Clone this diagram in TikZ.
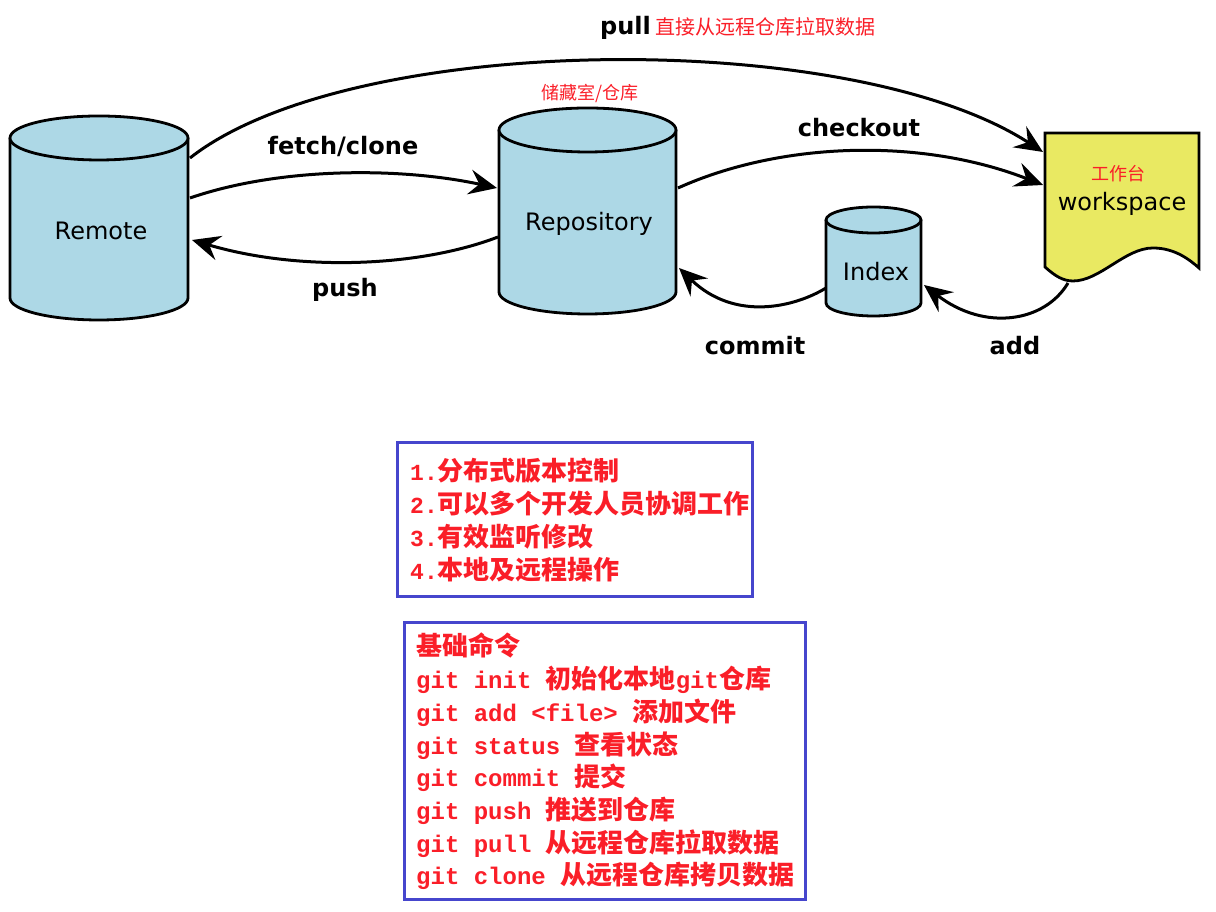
\documentclass[tikz,border=0pt]{standalone}
\usepackage{fontspec}
\setmainfont{DejaVu Sans}
\newfontfamily\cjkft{Noto Sans CJK SC}
\newfontfamily\monoft{Liberation Mono}
\usetikzlibrary{arrows.meta}
\definecolor{cylblue}{RGB}{173,216,230}
\definecolor{wsyellow}{RGB}{233,233,98}
\definecolor{txtred}{RGB}{250,30,40}
\definecolor{boxblue}{RGB}{70,70,205}
\newcommand\zh[1]{{\cjkft\fontsize{26}{30}\selectfont #1}}
\newcommand\mn[1]{{\monoft #1}}
\begin{document}
\begin{tikzpicture}[x=1pt,y=1pt,
  outline/.style={draw=black, line width=2.8pt},
  conn/.style={draw=black, line width=3pt, -{Stealth[length=28pt,width=25pt,inset=10pt]}},
  lbl/.style={inner sep=0pt, font=\fontsize{24}{28}\selectfont},
  blbl/.style={inner sep=0pt, font=\fontsize{24}{28}\selectfont\bfseries},
  redlbl/.style={inner sep=0pt, text=txtred, font=\fontsize{18}{22}\selectfont\cjkft},
  infobox/.style={draw=boxblue, line width=3pt},
  boxlineA/.style={anchor=base west, inner sep=0pt, text=txtred, font=\fontsize{23}{30}\selectfont\bfseries},
  boxlineB/.style={anchor=base west, inner sep=0pt, text=txtred, font=\fontsize{24}{30}\selectfont\bfseries}
]
\useasboundingbox (0,0) rectangle (1216,912);

% Remote cylinder
\path[fill=cylblue, outline] (10,774) -- (10,614) arc[start angle=180,end angle=360,x radius=89,y radius=22] -- (188,774);
\path[fill=cylblue, outline] (99,774) ellipse [x radius=89, y radius=22];
\node[lbl] (remote) at (101,681) {Remote};

% Repository cylinder
\path[fill=cylblue, outline] (499,782) -- (499,620) arc[start angle=180,end angle=360,x radius=88.5,y radius=22] -- (676,782);
\path[fill=cylblue, outline] (587.5,782) ellipse [x radius=88.5, y radius=22];
\node[lbl] (repo) at (589,688) {Repository};
\node[redlbl] (repocn) at (590,819) {储藏室/仓库};

% Index cylinder
\path[fill=cylblue, outline] (826,692) -- (826,609) arc[start angle=180,end angle=360,x radius=47.5,y radius=13] -- (921,692);
\path[fill=cylblue, outline] (873.5,692) ellipse [x radius=47.5, y radius=13];
\node[lbl] (index) at (876,640) {Index};

% Workspace
\path[fill=wsyellow, outline] (1045,779) -- (1199,779) -- (1199,644)
  .. controls (1190,652) and (1175,664) .. (1153,664)
  .. controls (1125,664) and (1100,631) .. (1073,631)
  .. controls (1063,631) and (1055,636) .. (1045,645) -- cycle;
\node[lbl] (ws) at (1122,708) {workspace};
\node[redlbl] (wscn) at (1118,738) {工作台};

% connector end points
\coordinate (remPullS) at (190,754);
\coordinate (wsPullE) at (1043,760);
\coordinate (remFetchS) at (190,714);
\coordinate (repoFetchE) at (497,724);
\coordinate (repoPushS) at (498,675);
\coordinate (remPushE) at (192,672);
\coordinate (repoCoS) at (678,724);
\coordinate (wsCoE) at (1043,727);
\coordinate (idxCommitS) at (826,624);
\coordinate (repoCommitE) at (679,644);
\coordinate (wsAddS) at (1068,629);
\coordinate (idxAddE) at (924,627);

% connectors
\draw[conn] (remPullS) .. controls (350,880) and (850,885) .. (wsPullE);
\draw[conn] (remFetchS) .. controls (280,745) and (400,745) .. (repoFetchE);
\draw[conn] (repoPushS) .. controls (420,645) and (300,640) .. (remPushE);
\draw[conn] (repoCoS) .. controls (780,770) and (920,775) .. (wsCoE);
\draw[conn] (idxCommitS) .. controls (795,605) and (735,590) .. (repoCommitE);
\draw[conn] (wsAddS) .. controls (1045,590) and (985,580) .. (idxAddE);

% connector labels
\node[blbl, anchor=east] (pull) at (651,884) {pull};
\node[inner sep=0pt, anchor=west, text=txtred, font=\fontsize{20}{24}\selectfont\cjkft] (pullcn) at (655,885) {直接从远程仓库拉取数据};
\node[blbl] (fetch) at (343,765) {fetch/clone};
\node[blbl] (push) at (345,622) {push};
\node[blbl] (checkout) at (859,784) {checkout};
\node[blbl] (commit) at (755,566) {commit};
\node[blbl] (add) at (1015,566) {add};

% info box 1
\draw[infobox] (397,469) rectangle (752,315);
\node[boxlineA] (a1) at (410,431) {\mn{1.}\zh{分布式版本控制}};
\node[boxlineA] (a2) at (410,398) {\mn{2.}\zh{可以多个开发人员协调工作}};
\node[boxlineA] (a3) at (410,365) {\mn{3.}\zh{有效监听修改}};
\node[boxlineA] (a4) at (410,332) {\mn{4.}\zh{本地及远程操作}};

% info box 2
\draw[infobox] (404,289) rectangle (805,12);
\node[boxlineB] (b1) at (416,256) {\zh{基础命令}};
\node[boxlineB] (b2) at (416,223.3) {\mn{git init }\zh{初始化本地}\mn{git}\zh{仓库}};
\node[boxlineB] (b3) at (416,190.6) {\mn{git add <file> }\zh{添加文件}};
\node[boxlineB] (b4) at (416,157.9) {\mn{git status }\zh{查看状态}};
\node[boxlineB] (b5) at (416,125.2) {\mn{git commit }\zh{提交}};
\node[boxlineB] (b6) at (416,92.5) {\mn{git push }\zh{推送到仓库}};
\node[boxlineB] (b7) at (416,59.8) {\mn{git pull }\zh{从远程仓库拉取数据}};
\node[boxlineB] (b8) at (416,27.1) {\mn{git clone }\zh{从远程仓库拷贝数据}};
\end{tikzpicture}
\end{document}
